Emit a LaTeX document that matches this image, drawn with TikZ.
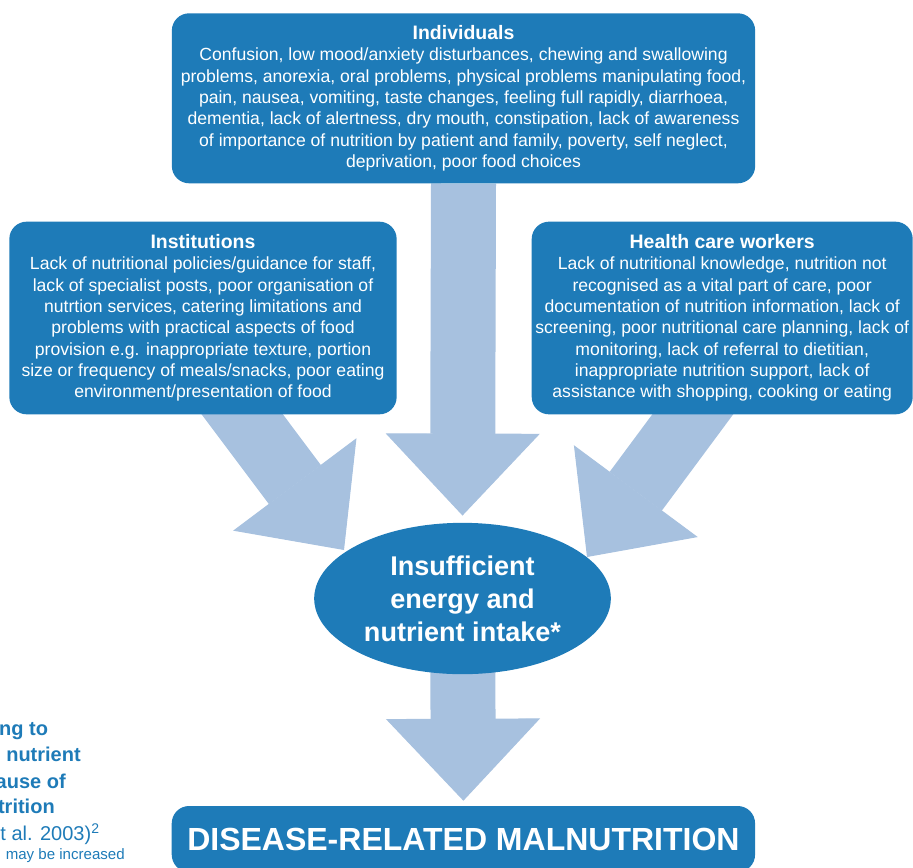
\documentclass[tikz,border=0pt]{standalone}
\usepackage{fontspec}
\setmainfont{Liberation Sans}
\usetikzlibrary{arrows.meta,positioning,shapes.geometric,calc,backgrounds}
\definecolor{boxblue}{RGB}{30,123,184}
\definecolor{arrowblue}{RGB}{167,193,223}

\newcommand{\boxhead}[1]{{\bfseries\fontsize{14.6}{16}\selectfont #1}}

\tikzset{
  causebox/.style={fill=boxblue, rounded corners=13pt, text=white, align=center,
    inner sep=0pt, font=\fontsize{13.2}{16}\selectfont},
  bigarrow/.style={draw=arrowblue, line width=48.75pt,
    -{Triangle[width=115.5pt,length=61.5pt,line width=0.8pt]}},
  notetext/.style={text=boxblue, anchor=base east, inner sep=0pt}
}

\begin{document}
\begin{tikzpicture}[x=0.75pt,y=-0.75pt]
    \useasboundingbox (0,0) rectangle (913,867);

    % causes
    \node[causebox, minimum width=437.5pt, minimum height=127.5pt] (ind) at (463.5,98.3)
      {\boxhead{Individuals}\\
       Confusion, low mood/anxiety disturbances, chewing and swallowing\\
       problems, anorexia, oral problems, physical problems manipulating food,\\
       pain, nausea, vomiting, taste changes, feeling full rapidly, diarrhoea,\\
       dementia, lack of alertness, dry mouth, constipation, lack of awareness\\
       of importance of nutrition by patient and family, poverty, self neglect,\\
       deprivation, poor food choices};
    \node[causebox, minimum width=290.5pt, minimum height=144.5pt] (inst) at (203,318)
      {\boxhead{Institutions}\\
       Lack of nutritional policies/guidance for staff,\\
       lack of specialist posts, poor organisation of\\
       nutrtion services, catering limitations and\\
       problems with practical aspects of food\\
       provision e.g. inappropriate texture, portion\\
       size or frequency of meals/snacks, poor eating\\
       environment/presentation of food};
    \node[causebox, minimum width=285.75pt, minimum height=144.5pt] (hcw) at (722.2,318)
      {\boxhead{Health care workers}\\
       Lack of nutritional knowledge, nutrition not\\
       recognised as a vital part of care, poor\\
       documentation of nutrition information, lack of\\
       screening, poor nutritional care planning, lack of\\
       monitoring, lack of referral to dietitian,\\
       inappropriate nutrition support, lack of\\
       assistance with shopping, cooking or eating};

    % intake and outcome
    \node[ellipse, fill=boxblue, text=white, minimum width=222.5pt, minimum height=113.5pt,
      inner sep=0pt, align=center, font=\bfseries\fontsize{20.3}{24.75}\selectfont]
      (ell) at (462.5,598.5) {Insufficient\\ energy and\\ nutrient intake*};
    \node[causebox, minimum width=437.5pt, minimum height=49.5pt,
      font=\bfseries\fontsize{24}{28}\selectfont] (dis) at (463.4,839)
      {DISEASE-RELATED MALNUTRITION};

    \coordinate (instout) at (212,374);
    \coordinate (insttip) at (344,550);
    \coordinate (hcwtip) at (587,557);

    \begin{scope}[on background layer]
        \draw[bigarrow] (ind.south) -- ($(ell.north)+(0,-7)$);
        \draw[bigarrow] (instout) -- (insttip);
        \draw[bigarrow] ($(hcw.south)+(0,-40)$) -- (hcwtip);
        \draw[bigarrow] (ell.center) -- ($(dis.north)+(0,-5)$);
    \end{scope}

    % caption, cut off at the left
    \node[notetext, font=\bfseries\fontsize{15}{19.5}\selectfont] (cap1) at (48.3,735) {ng to};
    \node[notetext, font=\bfseries\fontsize{15}{19.5}\selectfont] (cap2) at (81,761.7) {nutrient};
    \node[notetext, font=\bfseries\fontsize{15}{19.5}\selectfont] (cap3) at (66,788.3) {ause of};
    \node[notetext, font=\bfseries\fontsize{15}{19.5}\selectfont] (cap4) at (55,813) {trition};
    \node[notetext, font=\fontsize{15}{19.5}\selectfont] (cap5) at (100,840.7) {t al. 2003)\textsuperscript{2}};
    \node[notetext, font=\fontsize{11.3}{14}\selectfont] (cap6) at (125,859.3) {may be increased};
\end{tikzpicture}
\end{document}
